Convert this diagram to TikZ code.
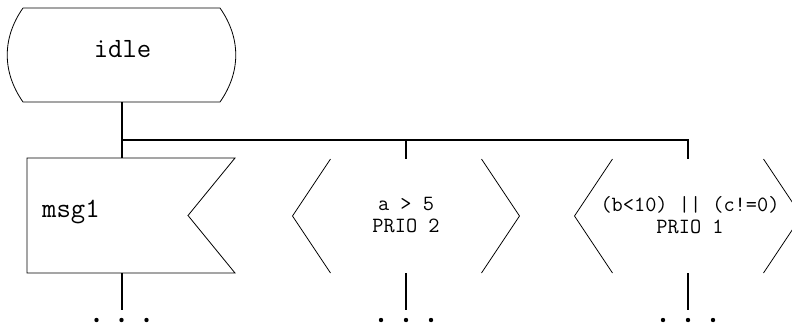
\documentclass[tikz,border=0pt]{standalone}
\usepackage{fontspec}
\usetikzlibrary{calc}
\begin{document}
\begin{tikzpicture}[x=1bp,y=-1bp,
  thinline/.style={line width=0.8bp},
  thickline/.style={line width=2bp},
  big/.style={font=\fontsize{28}{32}\selectfont\ttfamily, inner sep=0},
  small/.style={font=\fontsize{21.8}{22}\selectfont\ttfamily, align=center, inner sep=0},
  area/.style={inner sep=0, outer sep=0},
  dotmark/.style={circle, fill, inner sep=0, minimum size=4.4bp}]
\useasboundingbox (0,0) rectangle (792,324);
\clip (0,0) rectangle (792,324);

% invisible frames
\node[area, minimum width=227bp, minimum height=94bp] (idle) at (121.5,55) {};
\node[area, minimum width=208bp, minimum height=115bp] (msg) at (131,215.5) {};
\node[area, minimum width=227bp, minimum height=114bp] (c1) at (406,216) {};
\node[area, minimum width=227bp, minimum height=114bp] (c2) at (688,216) {};

% state symbol
\draw[thinline] ($(idle.north west)+(15,0)$) -- ($(idle.north east)+(-15,0)$)
  to[bend left=35] ($(idle.south east)+(-15,0)$) -- ($(idle.south west)+(15,0)$)
  to[bend left=35] ($(idle.north west)+(15,0)$);
\node[big, anchor=base] (idletext) at (122.5,57) {idle};

% input symbol
\draw[thinline] (msg.north west) -- (msg.north east) -- ($(msg.east)+(-47,0)$)
  -- (msg.south east) -- (msg.south west) -- cycle;
\node[big, anchor=base west] (msgtext) at (42,217) {msg1};

% enabling conditions
\foreach \c in {c1,c2}{
  \draw[thinline] ($(\c.north west)+(38,0)$) -- (\c.west) -- ($(\c.south west)+(38,0)$);
  \draw[thinline] ($(\c.north east)+(-38,0)$) -- (\c.east) -- ($(\c.south east)+(-38,0)$);
}
\node[small] (c1text) at (406,215) {a > 5\\PRIO 2};
\node[small] (c2text) at (690,215) {(b<10) || (c!=0)\\PRIO 1};

% connectors
\coordinate (split) at (121.5,140);
\coordinate (e0) at (121.5,310);
\coordinate (e1) at (406,310);
\coordinate (e2) at (688,310);
\draw[thickline] (idle.south) -- (split) -- (idle.south |- msg.north);
\draw[thickline] (split) -| (c2.north);
\draw[thickline] (c1.north |- split) -- (c1.north);
\draw[thickline] (idle.south |- msg.south) -- (e0);
\draw[thickline] (c1.south) -- (e1);
\draw[thickline] (c2.south) -- (e2);

% continuation dots
\foreach \x in {-25,0,25}{
  \node[dotmark] at ($(e0)+(\x,10)$) {};
  \node[dotmark] at ($(e1)+(\x,10)$) {};
  \node[dotmark] at ($(e2)+(\x,10)$) {};
}
\end{tikzpicture}
\end{document}
